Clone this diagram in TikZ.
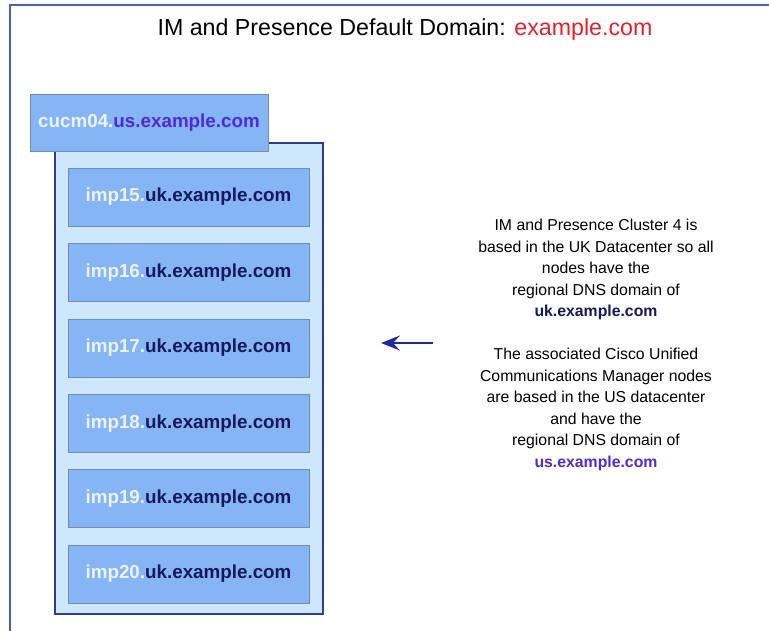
\documentclass[tikz,border=0pt]{standalone}
\usepackage{fontspec}
\setmainfont{Liberation Sans}
\usepackage{xcolor}
\usetikzlibrary{positioning}
\usetikzlibrary{arrows.meta}
\definecolor{hostfill}{RGB}{133,181,245}
\definecolor{hostedge}{RGB}{110,140,190}
\definecolor{clusterfill}{RGB}{206,231,252}
\definecolor{clusteredge}{RGB}{45,60,150}
\definecolor{ukblue}{RGB}{22,24,92}
\definecolor{usblue}{RGB}{78,42,222}
\definecolor{hostwhite}{RGB}{236,244,255}
\definecolor{domainred}{RGB}{228,32,42}
\definecolor{frameblue}{RGB}{72,92,205}
\definecolor{arrowblue}{RGB}{30,40,160}

\tikzset{
  host/.style={draw=hostedge, fill=hostfill, minimum width=241pt, minimum height=58pt,
    inner sep=0pt, font=\fontsize{18.8}{22}\selectfont\bfseries},
  cluster/.style={draw=clusteredge, line width=1.3pt, fill=clusterfill,
    minimum width=268pt, minimum height=471pt},
  note/.style={align=center, font=\fontsize{15.8}{21.5}\selectfont},
}
\newcommand{\imphost}[1]{\textcolor{hostwhite}{imp#1.}\textcolor{ukblue}{uk.example.com}}

\begin{document}
\begin{tikzpicture}[x=1pt,y=1pt,node distance=17pt]
    \useasboundingbox (0,0) rectangle (769,631);
    \draw[frameblue, line width=2pt] (10,0) -- (10,626) -- (769,626);
    \node[font=\fontsize{23.2}{27}\selectfont] (title) at (405,601) {IM and Presence Default Domain: \textcolor{domainred}{example.com}};
    % cluster 4 and its nodes
    \node[cluster] (cluster) at (189,252.5) {};
    \node[host, minimum width=238pt, minimum height=57pt] (cucm) at (149,508.5) {\textcolor{hostwhite}{cucm04.}\textcolor{usblue}{us.example.com}};
    \node[host] (imp15) at (188.5,434) {\imphost{15}};
    \node[host,below = of imp15] (imp16) {\imphost{16}};
    \node[host,below = of imp16] (imp17) {\imphost{17}};
    \node[host,below = of imp17] (imp18) {\imphost{18}};
    \node[host,below = of imp18] (imp19) {\imphost{19}};
    \node[host,below = of imp19] (imp20) {\imphost{20}};
    \node[note] (clusternote) at (596,286) {IM and Presence Cluster 4 is\\
      based in the UK Datacenter so all\\ nodes have the\\ regional DNS domain of\\
      \textcolor{ukblue}{\bfseries uk.example.com}\\[21.5pt]
      The associated Cisco Unified\\ Communications Manager nodes\\
      are based in the US datacenter\\ and have the\\ regional DNS domain of\\
      \textcolor{usblue}{\bfseries us.example.com}};
    \coordinate (tail) at (433,288);
    \coordinate (tip) at (381,288);
    \draw[arrowblue, line width=1.4pt, -{Stealth[length=19pt,width=15pt,inset=7pt]}] (tail) -- (tip);
  \end{tikzpicture}
\end{document}
